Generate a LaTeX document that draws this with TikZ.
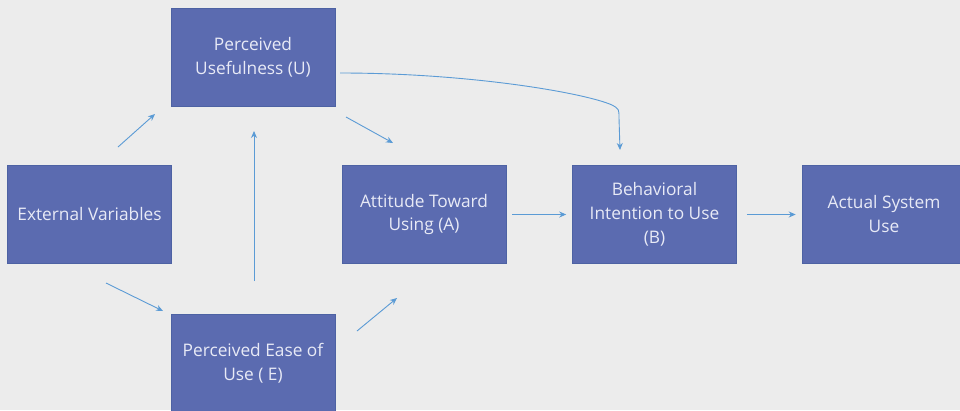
\documentclass[tikz,border=0pt]{standalone}
\usepackage{fontspec}
\setmainfont{Open Sans}
\usetikzlibrary{arrows.meta}
\definecolor{bgcol}{HTML}{ECECEC}
\definecolor{boxfill}{HTML}{5B6BB0}
\definecolor{boxline}{HTML}{4D62A3}
\definecolor{boxtext}{HTML}{E8EAF6}
\definecolor{linkcol}{HTML}{5B9BD5}
\tikzset{
  stage/.style={rectangle, fill=boxfill, draw=boxline, line width=0.6pt,
    minimum width=164pt, minimum height=98pt, inner sep=0pt,
    text=boxtext, align=center, font=\fontsize{17.3}{24}\selectfont},
  link/.style={draw=linkcol, line width=0.9pt,
    -{Stealth[length=7pt,width=6pt]}}
}
\begin{document}
\begin{tikzpicture}[x=1pt,y=-1pt]
  \fill[bgcol] (0,0) rectangle (960,410);
  \useasboundingbox (0,0) rectangle (960,410);

  % model stages
  \node[stage] (pu)  at (253,57)    {Perceived\\Usefulness (U)};
  \node[stage] (ev)  at (89.5,214.5) {External Variables};
  \node[stage] (att) at (424,214.5) {Attitude Toward\\Using (A)};
  \node[stage] (bi)  at (654.5,214.5) {Behavioral\\Intention to Use\\(B)};
  \node[stage] (asu) at (884,214.5) {Actual System\\Use};
  \node[stage] (peu) at (253,363)   {Perceived Ease of\\Use ( E)};

  % free-standing end points of the diagonal links
  \coordinate (evU1) at (118,147);  \coordinate (evU2) at (155,114);
  \coordinate (evE1) at (106,283);  \coordinate (evE2) at (163,311);
  \coordinate (eU1)  at (254,281);  \coordinate (eU2)  at (254,131);
  \coordinate (uA1)  at (346,117);  \coordinate (uA2)  at (393,143);
  \coordinate (eA1)  at (357,331);  \coordinate (eA2)  at (397,298);
  \coordinate (uB1)  at (340,73);   \coordinate (uB2)  at (620,150);

  \draw[link] (evU1) -- (evU2);
  \draw[link] (evE1) -- (evE2);
  \draw[link] (eU1) -- (eU2);
  \draw[link] (uA1) -- (uA2);
  \draw[link] (eA1) -- (eA2);
  \draw[link, shorten <=6pt, shorten >=6pt] (att.east) -- (bi.west);
  \draw[link, shorten <=10pt, shorten >=6pt] (bi.east) -- (asu.west);
  \draw[link] (uB1) .. controls (470,73) and (585,93) .. (612,105)
    .. controls (619,109) .. (619,118) -- (uB2);
\end{tikzpicture}
\end{document}
